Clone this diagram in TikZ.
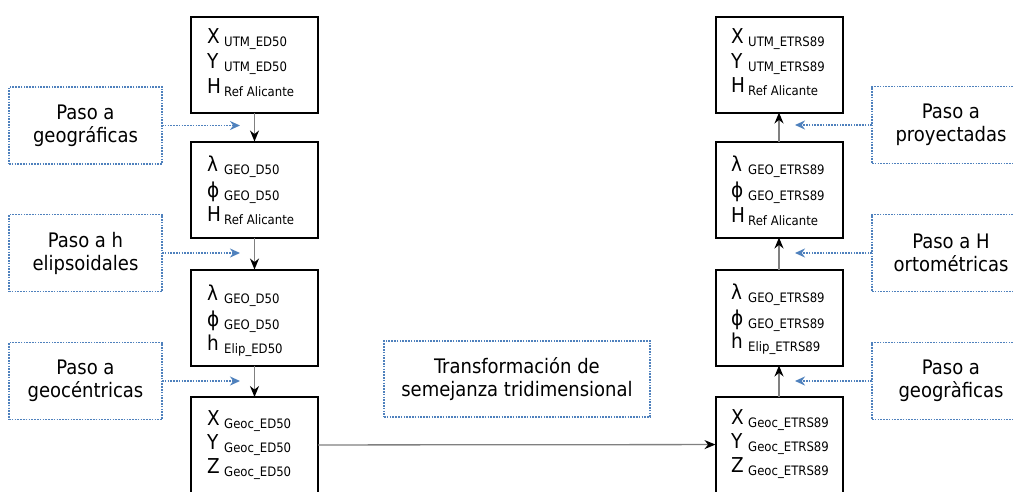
\documentclass[tikz,border=0pt]{standalone}
\usepackage{fontspec}
\setmainfont{DejaVu Sans Condensed}
\usetikzlibrary{arrows.meta}
\definecolor{dotblue}{RGB}{79,129,189}
\definecolor{lineg}{RGB}{128,128,128}
\newcommand{\sbs}[1]{\raisebox{-3pt}{\fontsize{13}{13}\selectfont #1}}
\newcommand{\mlt}[1]{\makebox[17pt][l]{#1}}
\begin{document}
\begin{tikzpicture}[x=1pt,y=-1pt,
 vbox/.style={draw=black,line width=2pt,minimum width=127pt,minimum height=96pt,inner sep=0pt,outer sep=0pt},
 dbox/.style={draw=dotblue,line width=1.6pt,dash pattern=on 1.6pt off 1.2pt,inner sep=0pt,outer sep=0pt,align=center,font=\fontsize{20}{23}\selectfont},
 txt/.style={anchor=base west,inner sep=0pt,font=\fontsize{20.5}{20}\selectfont},
 conn/.style={draw=lineg,line width=1.3pt,-{Stealth[black,length=11pt,width=9pt]}},
 dconn/.style={draw=dotblue,line width=1.6pt,dash pattern=on 1.6pt off 1.2pt,-{Stealth[dotblue,length=10pt,width=9pt]}}]
\useasboundingbox (0,0) rectangle (1013,491);
\clip (0,0) rectangle (1013,491);
% left column boxes
\node[vbox] (L1) at (254.5,65) {};
\node[vbox] (L2) at (254.5,189.5) {};
\node[vbox] (L3) at (254.5,317.5) {};
\node[vbox] (L4) at (254.5,445) {};
% right column boxes
\node[vbox] (R1) at (779,64.5) {};
\node[vbox] (R2) at (779,189.5) {};
\node[vbox] (R3) at (779,317.5) {};
\node[vbox] (R4) at (779,444.5) {};
% texts left
\node[txt] (l1a) at (207,43) {\mlt{X}\sbs{UTM\_ED50}};
\node[txt] (l1b) at (207,68) {\mlt{Y}\sbs{UTM\_ED50}};
\node[txt] (l1c) at (207,93) {\mlt{H}\sbs{Ref Alicante}};
\node[txt] (l2a) at (207,171) {\mlt{λ}\sbs{GEO\_D50}};
\node[txt] (l2b) at (207,197) {\mlt{ϕ}\sbs{GEO\_D50}};
\node[txt] (l2c) at (207,221) {\mlt{H}\sbs{Ref Alicante}};
\node[txt] (l3a) at (207,300) {\mlt{λ}\sbs{GEO\_D50}};
\node[txt] (l3b) at (207,326) {\mlt{ϕ}\sbs{GEO\_D50}};
\node[txt] (l3c) at (207,350) {\mlt{h}\sbs{Elip\_ED50}};
\node[txt] (l4a) at (207,425) {\mlt{X}\sbs{Geoc\_ED50}};
\node[txt] (l4b) at (207,449) {\mlt{Y}\sbs{Geoc\_ED50}};
\node[txt] (l4c) at (207,473) {\mlt{Z}\sbs{Geoc\_ED50}};
% texts right
\node[txt] (r1a) at (731,43) {\mlt{X}\sbs{UTM\_ETRS89}};
\node[txt] (r1b) at (731,68) {\mlt{Y}\sbs{UTM\_ETRS89}};
\node[txt] (r1c) at (731,92) {\mlt{H}\sbs{Ref Alicante}};
\node[txt] (r2a) at (731,171) {\mlt{λ}\sbs{GEO\_ETRS89}};
\node[txt] (r2b) at (731,197) {\mlt{ϕ}\sbs{GEO\_ETRS89}};
\node[txt] (r2c) at (731,222) {\mlt{H}\sbs{Ref Alicante}};
\node[txt] (r3a) at (731,299) {\mlt{λ}\sbs{GEO\_ETRS89}};
\node[txt] (r3b) at (731,325) {\mlt{ϕ}\sbs{GEO\_ETRS89}};
\node[txt] (r3c) at (731,348) {\mlt{h}\sbs{Elip\_ETRS89}};
\node[txt] (r4a) at (731,424) {\mlt{X}\sbs{Geoc\_ETRS89}};
\node[txt] (r4b) at (731,448) {\mlt{Y}\sbs{Geoc\_ETRS89}};
\node[txt] (r4c) at (731,472) {\mlt{Z}\sbs{Geoc\_ETRS89}};
% dotted boxes
\node[dbox,minimum width=153pt,minimum height=77pt] (D1) at (85.5,125.5) {Paso a\\geográficas};
\node[dbox,minimum width=153pt,minimum height=77pt] (D2) at (85.5,253) {Paso a h\\elipsoidales};
\node[dbox,minimum width=153pt,minimum height=77pt] (D3) at (85.5,381) {Paso a\\geocéntricas};
\node[dbox,minimum width=158pt,minimum height=77pt] (E1) at (951,125) {Paso a\\proyectadas};
\node[dbox,minimum width=158pt,minimum height=77pt] (E2) at (951,253) {Paso a H\\ortométricas};
\node[dbox,minimum width=158pt,minimum height=77pt] (E3) at (951,381) {Paso a\\geogràficas};
\node[dbox,minimum width=266pt,minimum height=76pt] (M) at (517,379) {Transformación de\\semejanza tridimensional};
% arrow end points
\coordinate (d1e) at (240,125.5);
\coordinate (d2e) at (240,253);
\coordinate (d3e) at (240,381);
\coordinate (e1e) at (795,125);
\coordinate (e2e) at (795,253);
\coordinate (e3e) at (795,381);
% connectors
\draw[conn] (L1) -- (L2);
\draw[conn] (L2) -- (L3);
\draw[conn] (L3) -- (L4);
\draw[conn] (R4) -- (R3);
\draw[conn] (R3) -- (R2);
\draw[conn] (R2) -- (R1);
\draw[conn] (L4) -- (R4);
\draw[dconn] (D1) -- (d1e);
\draw[dconn] (D2) -- (d2e);
\draw[dconn] (D3) -- (d3e);
\draw[dconn] (E1) -- (e1e);
\draw[dconn] (E2) -- (e2e);
\draw[dconn] (E3) -- (e3e);
\end{tikzpicture}
\end{document}
